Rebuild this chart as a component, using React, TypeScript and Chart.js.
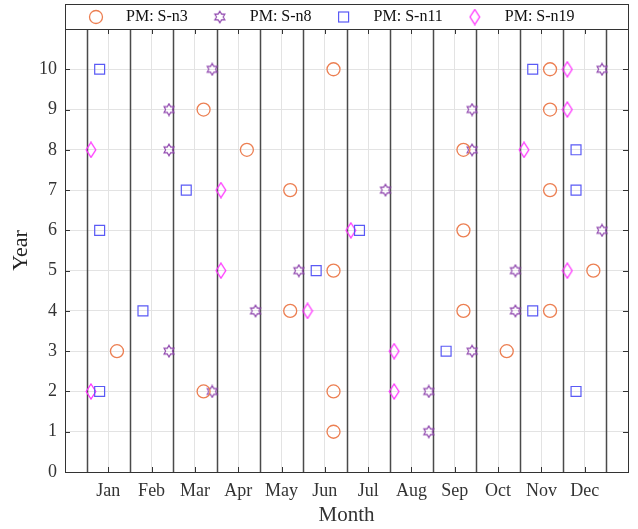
import React, { useEffect, useRef } from 'react';
import { Chart, registerables } from 'chart.js';

Chart.register(...registerables);

// ---- data ----
const months = ['Jan', 'Feb', 'Mar', 'Apr', 'May', 'Jun', 'Jul', 'Aug', 'Sep', 'Oct', 'Nov', 'Dec'];
const yTickLabels = ['0', '1', '2', '3', '4', '5', '6', '7', '8', '9', '10'];
const seriesNames = ['PM: S-n3', 'PM: S-n8', 'PM: S-n11', 'PM: S-n19'];

// years observed, per month (Jan..Dec)
const sn3Years = [[3], [], [9, 2], [8], [7, 4], [10, 5, 2, 1], [], [], [8, 6, 4], [3], [10, 9, 7, 4], [5]];
const sn8Years = [[], [9, 8, 3], [10, 2], [4], [5], [], [7], [2, 1], [9, 8, 3], [5, 4], [], [10, 6]];
const sn11Years = [[10, 6, 2], [4], [7], [], [], [5], [6], [], [3], [], [10, 4], [8, 7, 2]];
const sn19Years = [[8, 2], [], [], [7, 5], [], [4], [6], [3, 2], [], [], [8], [10, 9, 5]];

// horizontal offset of each series inside a month slot
const seriesOffsets = [0.2, 0.4, -0.2, -0.4];

const COLORS = ['#EC7F52', '#8E44AD', '#5A5AF5', '#FF33FF'];
const FONT = "'Liberation Serif', 'Times New Roman', serif";

function toPoints(years: number[][], offset: number) {
  const pts: { x: number; y: number }[] = [];
  years.forEach((ys, i) => ys.forEach((y) => pts.push({ x: i + 1 + offset, y })));
  return pts;
}

function makeHexagram(color: string) {
  const c = document.createElement('canvas');
  c.width = 14;
  c.height = 14;
  const ctx = c.getContext('2d')!;
  const R = 5.8;
  const r = R / Math.sqrt(3);
  ctx.strokeStyle = color;
  ctx.lineWidth = 1.1;
  ctx.beginPath();
  for (let k = 0; k < 12; k++) {
    const a = -Math.PI / 2 + (k * Math.PI) / 6;
    const rad = k % 2 === 0 ? R : r;
    const x = 7 + rad * Math.cos(a);
    const y = 7 + rad * Math.sin(a);
    if (k === 0) ctx.moveTo(x, y);
    else ctx.lineTo(x, y);
  }
  ctx.closePath();
  ctx.stroke();
  return c;
}

function makeDiamond(color: string) {
  const c = document.createElement('canvas');
  c.width = 12;
  c.height = 17;
  const ctx = c.getContext('2d')!;
  ctx.strokeStyle = color;
  ctx.lineWidth = 1.3;
  ctx.beginPath();
  ctx.moveTo(6, 1);
  ctx.lineTo(10.8, 8.5);
  ctx.lineTo(6, 16);
  ctx.lineTo(1.2, 8.5);
  ctx.closePath();
  ctx.stroke();
  return c;
}

export default function App() {
  const ref = useRef<HTMLCanvasElement>(null);

  useEffect(() => {
    const canvas = ref.current!;
    const hexagram = makeHexagram(COLORS[1]);
    const diamond = makeDiamond(COLORS[3]);

    const styles: any[] = [
      { pointStyle: 'circle', pointRadius: 6.5, borderWidth: 1.3 },
      { pointStyle: hexagram, pointRadius: 6, borderWidth: 1 },
      { pointStyle: 'rect', pointRadius: 7, borderWidth: 1.2 },
      { pointStyle: diamond, pointRadius: 7, borderWidth: 1 },
    ];
    const yearsList = [sn3Years, sn8Years, sn11Years, sn19Years];

    const datasets = yearsList.map((years, i) => ({
      label: seriesNames[i],
      data: toPoints(years, seriesOffsets[i]),
      pointStyle: styles[i].pointStyle,
      pointRadius: styles[i].pointRadius,
      pointHoverRadius: styles[i].pointRadius,
      pointBorderWidth: styles[i].borderWidth,
      borderColor: COLORS[i],
      pointBorderColor: COLORS[i],
      backgroundColor: 'rgba(0,0,0,0)',
      pointBackgroundColor: 'rgba(0,0,0,0)',
      showLine: false,
    }));

    const framePlugin = {
      id: 'frame',
      beforeDatasetsDraw(chart: any) {
        const { ctx, chartArea } = chart;
        const xs = chart.scales.x;
        ctx.save();
        ctx.strokeStyle = '#4a4a4a';
        ctx.lineWidth = 1.5;
        for (let i = 0; i <= months.length; i++) {
          const px = Math.round(xs.getPixelForValue(i + 0.5)) + 0.5;
          ctx.beginPath();
          ctx.moveTo(px, chartArea.top);
          ctx.lineTo(px, chartArea.bottom);
          ctx.stroke();
        }
        ctx.restore();
      },
      afterDraw(chart: any) {
        const { ctx, chartArea } = chart;
        const { left, right, top, bottom } = chartArea;
        const xs = chart.scales.x;
        const ys = chart.scales.y;
        ctx.save();
        // inward ticks
        ctx.strokeStyle = '#333';
        ctx.lineWidth = 1;
        const tl = 5;
        for (let i = 1; i <= months.length; i++) {
          const px = Math.round(xs.getPixelForValue(i)) + 0.5;
          ctx.beginPath();
          ctx.moveTo(px, bottom);
          ctx.lineTo(px, bottom - tl);
          ctx.moveTo(px, top);
          ctx.lineTo(px, top + tl);
          ctx.stroke();
        }
        for (let v = 0; v <= 11; v++) {
          const py = Math.round(ys.getPixelForValue(v)) + 0.5;
          ctx.beginPath();
          ctx.moveTo(left, py);
          ctx.lineTo(left + tl, py);
          ctx.moveTo(right, py);
          ctx.lineTo(right - tl, py);
          ctx.stroke();
        }
        // box
        ctx.strokeStyle = '#333';
        ctx.lineWidth = 1;
        ctx.strokeRect(Math.round(left) + 0.5, Math.round(top) + 0.5, Math.round(right - left), Math.round(bottom - top));

        // legend
        const ly0 = 4;
        ctx.fillStyle = '#fff';
        ctx.fillRect(left, ly0, right - left, top - ly0);
        ctx.strokeStyle = '#333';
        ctx.strokeRect(Math.round(left) + 0.5, ly0 + 0.5, Math.round(right - left), Math.round(top - ly0));
        ctx.font = `16px ${FONT}`;
        ctx.textBaseline = 'middle';
        ctx.textAlign = 'left';
        const cy = (ly0 + top) / 2 + 0.5;
        let mx = 96;
        seriesNames.forEach((name, i) => {
          ctx.strokeStyle = COLORS[i];
          if (i === 0) {
            ctx.lineWidth = 1.3;
            ctx.beginPath();
            ctx.arc(mx, cy, 6.5, 0, Math.PI * 2);
            ctx.stroke();
          } else if (i === 1) {
            ctx.drawImage(hexagram, mx - hexagram.width / 2, cy - hexagram.height / 2);
          } else if (i === 2) {
            ctx.lineWidth = 1.2;
            ctx.strokeRect(mx - 5, cy - 5, 10, 10);
          } else {
            ctx.drawImage(diamond, mx - diamond.width / 2, cy - diamond.height / 2);
          }
          const tx = mx + 30;
          ctx.fillStyle = '#111';
          ctx.fillText(name, tx, cy);
          mx = tx + ctx.measureText(name).width + 32;
        });
        ctx.restore();
      },
    };

    const chart = new Chart(canvas, {
      type: 'scatter',
      data: { datasets },
      plugins: [framePlugin],
      options: {
        animation: false,
        responsive: false,
        events: [],
        layout: { padding: { left: 0, right: 10, top: 29, bottom: 0 } },
        plugins: { legend: { display: false }, tooltip: { enabled: false } },
        scales: {
          x: {
            type: 'linear',
            min: 0,
            max: 13,
            afterFit: (s: any) => { s.height = 57; },
            afterBuildTicks: (s: any) => {
              s.ticks = Array.from({ length: 14 }, (_, i) => ({ value: i }));
            },
            ticks: {
              autoSkip: false,
              maxRotation: 0,
              padding: 8,
              color: '#333',
              font: { family: FONT, size: 18 },
              callback: (v: any) => (v >= 1 && v <= 12 ? months[v - 1] : ''),
            },
            grid: { color: '#e3e3e3', drawTicks: false, lineWidth: 1 },
            border: { display: false },
            title: {
              display: true,
              text: 'Month',
              color: '#333',
              font: { family: FONT, size: 21 },
              padding: { top: 0, bottom: 1 },
            },
          },
          y: {
            type: 'linear',
            min: 0,
            max: 11,
            afterFit: (s: any) => { s.width = 65; },
            afterBuildTicks: (s: any) => {
              s.ticks = Array.from({ length: 12 }, (_, i) => ({ value: i }));
            },
            ticks: {
              autoSkip: false,
              padding: 8,
              color: '#333',
              font: { family: FONT, size: 18 },
              callback: (v: any) => (v < yTickLabels.length ? yTickLabels[v] : ''),
            },
            grid: { color: '#e3e3e3', drawTicks: false, lineWidth: 1 },
            border: { display: false },
            title: {
              display: true,
              text: 'Year',
              color: '#222',
              font: { family: FONT, size: 22 },
              padding: { top: 8, bottom: 0 },
            },
          },
        },
      },
    } as any);

    return () => chart.destroy();
  }, []);

  return (
    <div style={{ position: 'absolute', left: 0, top: 0, width: 638, height: 529, background: '#fff' }}>
      <canvas ref={ref} width={638} height={529} style={{ display: 'block' }} />
    </div>
  );
}
